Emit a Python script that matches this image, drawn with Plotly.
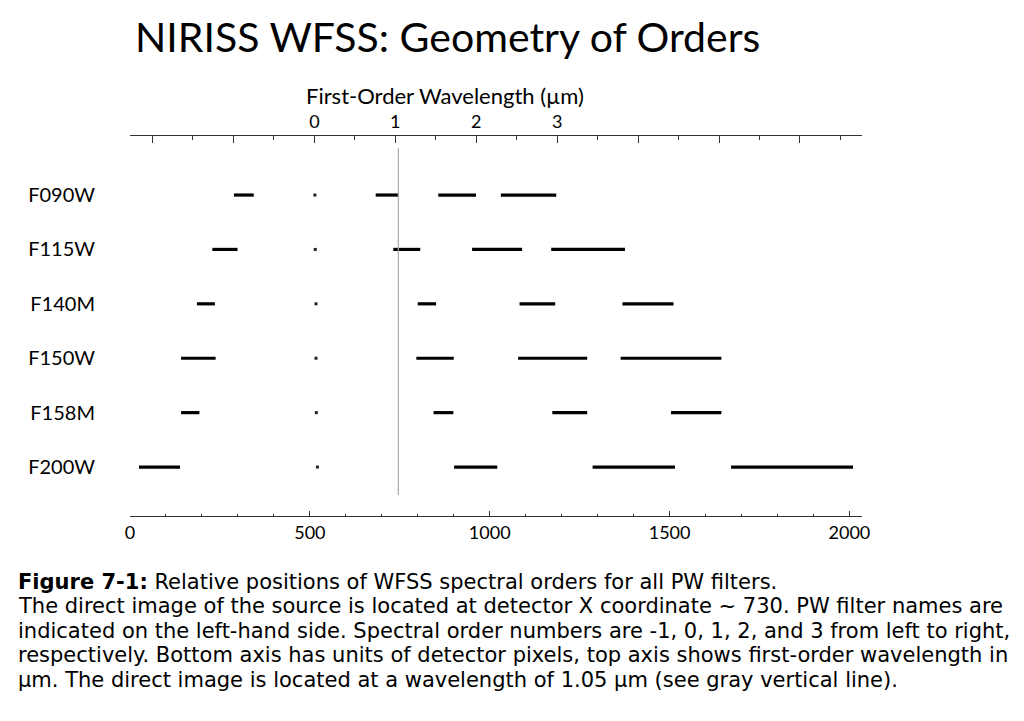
import plotly.graph_objects as go

# ---- data (detector X pixel coordinates) ----
filters = ["F090W", "F115W", "F140M", "F150W", "F158M", "F200W"]
order_m1_start = [289, 229, 186, 142, 142, 25]
order_m1_end = [344, 299, 236, 238, 193, 139]
order0_x = [514, 515, 517, 517, 518, 521]
order1_start = [683, 732, 800, 796, 844, 901]
order1_end = [746, 807, 851, 900, 899, 1021]
order2_start = [857, 951, 1083, 1079, 1174, 1286]
order2_end = [962, 1090, 1182, 1271, 1271, 1515]
order3_start = [1031, 1171, 1369, 1364, 1504, 1671]
order3_end = [1185, 1376, 1511, 1644, 1644, 2010]
direct_image_x = 746

# bottom axis ticks (detector pixels)
bottom_ticks = [0, 500, 1000, 1500, 2000]
bottom_range = [0, 2035]

# top axis: first-order wavelength (um)
wave_zero_px = 512.5   # detector x of 0 um
px_per_um = 225.0
top_tickvals = [-2, -1, 0, 1, 2, 3, 4, 5, 6]
top_ticktext = ["", "", "0", "1", "2", "3", "", "", ""]

caption_lines = [
    "<b>Figure 7-1:</b> Relative positions of WFSS spectral orders for all PW filters.",
    "The direct image of the source is located at detector X coordinate ~ 730. PW filter names are",
    "indicated on the left-hand side. Spectral order numbers are -1, 0, 1, 2, and 3 from left to right,",
    "respectively. Bottom axis has units of detector pixels, top axis shows first-order wavelength in",
    "\u00b5m. The direct image is located at a wavelength of 1.05 \u00b5m (see gray vertical line).",
]

CAL = "Lato, 'Open Sans', sans-serif"
CAPFONT = "'DejaVu Sans', 'Liberation Sans', sans-serif"

# ---- layout geometry (page has an 8px body margin) ----
BODY = 8
FIG_W, FIG_H = 1008, 705
L, T = 122, 128
PLOT_W, PLOT_H = 732.5, 380
R = FIG_W - L - PLOT_W
B = FIG_H - T - PLOT_H


def px(X):
    return (X - BODY - L) / PLOT_W


def py(Y):
    return 1 - (Y - BODY - T) / PLOT_H


fig = go.Figure()


def seg_trace(starts, ends):
    xs, ys = [], []
    for f, s, e in zip(filters, starts, ends):
        xs += [s, e, None]
        ys += [f, f, None]
    return go.Scatter(x=xs, y=ys, mode="lines",
                      line=dict(color="black", width=3.2),
                      showlegend=False, hoverinfo="skip")


for s, e in [(order_m1_start, order_m1_end), (order1_start, order1_end),
             (order2_start, order2_end), (order3_start, order3_end)]:
    fig.add_trace(seg_trace(s, e))

fig.add_trace(go.Scatter(x=order0_x, y=filters, mode="markers",
                         marker=dict(symbol="square", size=3, color="#222",
                                     line=dict(width=0)),
                         showlegend=False, hoverinfo="skip"))

# invisible trace to carry the top axis
top_range = [(bottom_range[0] - wave_zero_px) / px_per_um,
             (bottom_range[1] - wave_zero_px) / px_per_um]
fig.add_trace(go.Scatter(x=[top_range[0], top_range[1]], y=[filters[0], filters[0]],
                         xaxis="x2", mode="markers", marker=dict(opacity=0),
                         showlegend=False, hoverinfo="skip"))

# gray vertical line at the direct image
fig.add_shape(type="line", xref="x", yref="paper",
              x0=direct_image_x, x1=direct_image_x, y0=py(495), y1=py(148),
              line=dict(color="#a8a8a8", width=1.2))

fig.update_layout(
    width=FIG_W, height=FIG_H,
    margin=dict(l=L, r=R, t=T, b=B),
    paper_bgcolor="white", plot_bgcolor="white",
    showlegend=False,
    xaxis=dict(range=bottom_range, tickvals=bottom_ticks,
               ticks="inside", ticklen=5, tickwidth=1, tickcolor="#333",
               showline=True, linecolor="#333", linewidth=1,
               showgrid=False, zeroline=False,
               minor=dict(dtick=100, tick0=0, ticks="inside", ticklen=2.5,
                          tickcolor="#333", tickwidth=1),
               tickfont=dict(family=CAL, size=18, color="black"),
               ticklabelstandoff=0),
    xaxis2=dict(range=top_range, overlaying="x", side="top",
                tickvals=top_tickvals, ticktext=top_ticktext,
                ticks="inside", ticklen=7, tickwidth=1, tickcolor="#333",
                showline=True, linecolor="#333", linewidth=1,
                showgrid=False, zeroline=False,
                minor=dict(dtick=0.5, tick0=0, ticks="inside", ticklen=3.5,
                           tickcolor="#333", tickwidth=1),
                tickfont=dict(family=CAL, size=18, color="black"),
                ticklabelstandoff=0),
    yaxis=dict(type="category", categoryorder="array", categoryarray=filters,
               range=[5.90, -1.085], showline=False, showgrid=False,
               zeroline=False, ticks="",
               tickfont=dict(family=CAL, size=20, color="black"),
               ticklabelstandoff=34),
)

fig.add_annotation(text="NIRISS WFSS: Geometry of Orders", xref="paper", yref="paper",
                   x=px(448), y=py(37), xanchor="center",
                   yanchor="middle", showarrow=False,
                   font=dict(family=CAL, size=41, color="black"))
fig.add_annotation(text="First-Order Wavelength (\u00b5m)", xref="paper", yref="paper",
                   x=px(445), y=py(95), xanchor="center",
                   yanchor="middle", showarrow=False,
                   font=dict(family=CAL, size=22, color="black"))

cap_y = [582, 606, 631, 655, 680]
for line, yy in zip(caption_lines, cap_y):
    fig.add_annotation(text=line, xref="paper", yref="paper",
                       x=px(16), y=py(yy),
                       xanchor="left", yanchor="middle", showarrow=False,
                       font=dict(family=CAPFONT, size=21, color="black"))

fig.write_html("out.html")
